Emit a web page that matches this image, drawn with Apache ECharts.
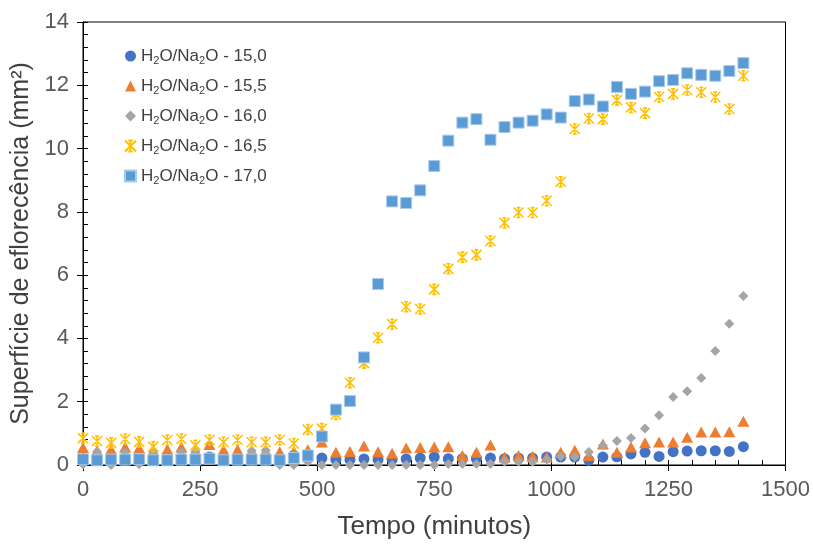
<!DOCTYPE html>
<html>
<head>
<meta charset="utf-8">
<script src="https://cdn.jsdelivr.net/npm/echarts@6/dist/echarts.min.js"></script>
<style>
html,body{margin:0;padding:0;background:#fff;}
#chart{width:813px;height:545px;}
</style>
</head>
<body>
<div id="chart"></div>
<script>
const times = [0,30,60,90,120,150,180,210,240,270,300,330,360,390,420,450,480,510,540,570,600,630,660,690,720,750,780,810,840,870,900,930,960,990,1020,1050,1080,1110,1140,1170,1200,1230,1260,1290,1320,1350,1380,1410];

const seriesNames = ['H2O/Na2O - 15,0','H2O/Na2O - 15,5','H2O/Na2O - 16,0','H2O/Na2O - 16,5','H2O/Na2O - 17,0'];

const s150 = [0.15,0.15,0.15,0.15,0.15,0.15,0.15,0.15,0.15,0.25,0.15,0.15,0.15,0.15,0.15,0.3,0.2,0.22,0.17,0.17,0.19,0.17,0.17,0.19,0.22,0.25,0.2,0.2,0.2,0.22,0.2,0.22,0.22,0.25,0.25,0.25,0.15,0.25,0.26,0.35,0.4,0.27,0.42,0.44,0.45,0.45,0.43,0.58];
const s155 = [0.55,0.45,0.5,0.57,0.54,0.45,0.5,0.57,0.45,0.65,0.48,0.48,0.45,0.45,0.42,0.42,0.48,0.73,0.4,0.43,0.6,0.42,0.37,0.54,0.55,0.57,0.58,0.3,0.4,0.63,0.25,0.3,0.28,0.25,0.4,0.47,0.3,0.66,0.4,0.57,0.7,0.73,0.73,0.88,1.04,1.04,1.05,1.38];
const s160 = [0.02,0.42,0.0,0.4,0.02,0.42,0.2,0.4,0.42,0.15,0.15,0.15,0.45,0.47,0.0,0.0,0.1,0.0,0.0,0.0,0.0,0.0,0.0,0.0,0.0,0.0,0.03,0.03,0.03,0.03,0.1,0.1,0.1,0.17,0.27,0.25,0.41,0.62,0.76,0.85,1.15,1.57,2.15,2.33,2.75,3.6,4.46,5.34];
const s165 = [0.85,0.76,0.7,0.82,0.73,0.58,0.79,0.82,0.62,0.79,0.72,0.79,0.72,0.72,0.79,0.68,1.12,1.15,1.6,2.6,3.22,4.02,4.45,5.0,4.93,5.55,6.2,6.57,6.64,7.08,7.65,7.98,7.98,8.35,8.95,10.62,10.95,10.93,11.53,11.3,11.12,11.63,11.73,11.85,11.78,11.63,11.25,12.3];
const s170 = [0.18,0.15,0.17,0.17,0.18,0.15,0.15,0.17,0.17,0.2,0.15,0.17,0.17,0.17,0.15,0.22,0.3,0.9,1.75,2.02,3.4,5.72,8.33,8.28,8.68,9.45,10.25,10.82,10.93,10.28,10.68,10.82,10.88,11.08,10.98,11.5,11.55,11.33,11.95,11.73,11.8,12.13,12.17,12.38,12.33,12.3,12.45,12.7];

const xTicks = [0,250,500,750,1000,1250,1500];
const yTicks = [0,2,4,6,8,10,12,14];

const pair = arr => times.map((t,i)=>[t,arr[i]]);

const starPath = 'path://M0,0L10,10M10,0L0,10M5,0L5,10M3,0L7,0M3,10L7,10';

const font = 'Liberation Sans, Arial, sans-serif';
const chart = echarts.init(document.getElementById('chart'), null, {renderer:'canvas'});

const option = {
  animation: false,
  backgroundColor: '#fff',
  textStyle: {fontFamily: font},
  grid: {left: 83, right: 27, top: 22, bottom: 80, show: true, borderColor: '#000', borderWidth: 1, backgroundColor: 'transparent'},
  legend: {
    orient: 'vertical', left: 119, top: 41, itemGap: 10, itemWidth: 11, itemHeight: 11,
    data: seriesNames,
    formatter: n => n.replace('H2O','H{sub|2}O').replace('Na2O','Na{sub|2}O'),
    textStyle: {fontSize: 17, color: '#404040', fontFamily: font, lineHeight: 20,
      rich: {sub: {fontSize: 11, color: '#404040', fontFamily: font, verticalAlign: 'bottom', lineHeight: 20, padding: [6,0,0,0]}}}
  },
  xAxis: [{
    type: 'value', min: xTicks[0], max: xTicks[xTicks.length-1], interval: 250,
    name: 'Tempo (minutos)', nameLocation: 'middle', nameGap: 49,
    nameTextStyle: {fontSize: 26, color: '#404040', fontFamily: font},
    axisLine: {show: true, onZero: false, lineStyle: {color: '#000', width: 1}},
    axisTick: {show: true, length: 6, lineStyle: {color: '#000'}},
    axisLabel: {fontSize: 22, color: '#595959', margin: 14, fontFamily: font, formatter: v => String(v)},
    splitLine: {show: false}
  },{
    type: 'value', min: 0, max: 1500, interval: 50, position: 'bottom', offset: 0,
    axisLine: {show: true, onZero: false, lineStyle: {color: '#000', width: 1}}, axisLabel: {show: false},
    axisTick: {show: true, inside: true, length: 5, lineStyle: {color: '#000', width: 1}},
    splitLine: {show: false}
  }],
  yAxis: [{
    type: 'value', min: yTicks[0], max: yTicks[yTicks.length-1], interval: 2,
    name: 'Superfície de eflorecência (mm²)', nameLocation: 'middle', nameGap: 44,
    nameTextStyle: {fontSize: 25, color: '#404040', fontFamily: font},
    axisLine: {show: true, onZero: false, lineStyle: {color: '#000', width: 1}},
    axisTick: {show: true, length: 6, lineStyle: {color: '#000'}},
    axisLabel: {fontSize: 22, color: '#595959', margin: 14, fontFamily: font},
    splitLine: {show: false}
  },{
    type: 'value', min: 0, max: 14, interval: 0.4, position: 'left', offset: 0,
    axisLine: {show: true, onZero: false, lineStyle: {color: '#000', width: 1}}, axisLabel: {show: false},
    axisTick: {show: true, inside: true, length: 5, lineStyle: {color: '#000', width: 1}},
    splitLine: {show: false}
  }],
  series: [
    {name: seriesNames[0], type: 'scatter', data: pair(s150), symbol: 'circle', symbolSize: 11,
     itemStyle: {color: '#4472C4', opacity: 1}},
    {name: seriesNames[1], type: 'scatter', data: pair(s155), symbol: 'triangle', symbolSize: [12,11],
     itemStyle: {color: '#ED7D31', opacity: 1}},
    {name: seriesNames[2], type: 'scatter', data: pair(s160), symbol: 'diamond', symbolSize: 10,
     itemStyle: {color: '#A5A5A5', opacity: 1}},
    {name: seriesNames[3], type: 'scatter', data: pair(s165), symbol: starPath, symbolSize: 10,
     itemStyle: {color: 'rgba(0,0,0,0)', borderColor: '#FFC000', borderWidth: 1.6, opacity: 1}},
    {name: seriesNames[4], type: 'scatter', data: pair(s170), symbol: 'rect', symbolSize: 11,
     itemStyle: {color: '#5B9BD5', borderColor: '#A9CBEA', borderWidth: 1, opacity: 1}},
    {name: 'minorTicksHost', type: 'scatter', xAxisIndex: 1, yAxisIndex: 1, data: [], silent: true}
  ]
};
chart.setOption(option);
</script>
</body>
</html>
